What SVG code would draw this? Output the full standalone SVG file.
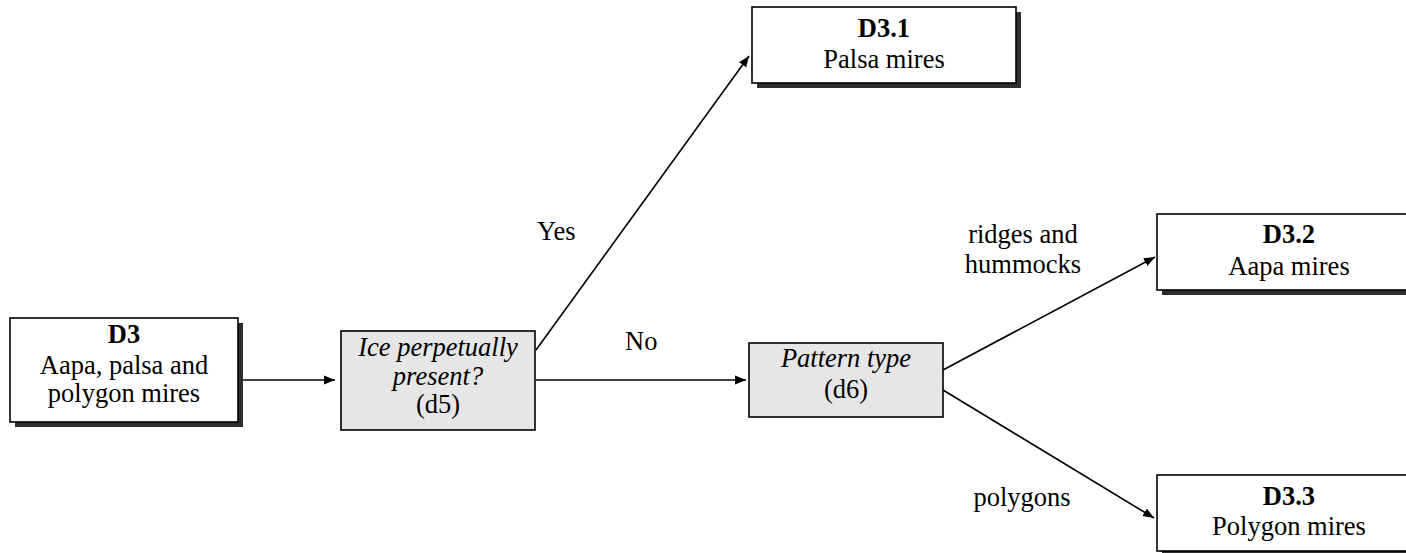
<svg xmlns="http://www.w3.org/2000/svg" width="1406" height="553" viewBox="0 0 1406 553">
  <style>
    text { font-family: "Liberation Serif", "Times New Roman", "DejaVu Serif", serif; font-size: 26.5px; fill: #000; text-anchor: middle; }
    .b { font-weight: bold; }
    .i { font-style: italic; }
    .box { fill: #fff; stroke: #000; stroke-width: 1.6; }
    .dec { fill: #e6e6e6; stroke: #000; stroke-width: 1.6; }
    .shadow { fill: #2e2e2e; }
    .edge { stroke: #000; stroke-width: 1.6; fill: none; marker-end: url(#arrow); }
    .lbl { text-anchor: start; }
  </style>
  <defs>
    <marker id="arrow" viewBox="0 0 10 10" refX="10" refY="5" markerWidth="11" markerHeight="11" markerUnits="userSpaceOnUse" orient="auto">
      <path d="M0,1 L10,5 L0,9 z" fill="#000"/>
    </marker>
  </defs>

  <!-- connectors -->
  <g id="connectors">
    <line class="edge" x1="243" y1="380" x2="335" y2="380"/>
    <line class="edge" x1="536" y1="350" x2="749" y2="56"/>
    <line class="edge" x1="536" y1="380" x2="746" y2="380"/>
    <line class="edge" x1="943" y1="370" x2="1155" y2="257"/>
    <line class="edge" x1="943" y1="390" x2="1154" y2="518"/>
    <text class="lbl" x="537" y="240">Yes</text>
    <text class="lbl" x="625" y="350">No</text>
    <text x="1023" y="243">ridges and</text>
    <text x="1023" y="273">hummocks</text>
    <text x="1022" y="506">polygons</text>
  </g>

  <!-- D3 -->
  <g id="node-d3">
    <rect class="shadow" x="15" y="323" width="228" height="104"/>
    <rect class="box" x="10" y="318" width="228" height="104"/>
    <text class="b" x="124" y="343">D3</text>
    <text x="124" y="374">Aapa, palsa and</text>
    <text x="124" y="402">polygon mires</text>
  </g>

  <!-- decision d5 -->
  <g id="node-d5">
    <rect class="dec" x="341" y="331" width="194" height="99"/>
    <text class="i" x="438" y="356">Ice perpetually</text>
    <text class="i" x="438" y="385">present?</text>
    <text x="438" y="413">(d5)</text>
  </g>

  <!-- decision d6 -->
  <g id="node-d6">
    <rect class="dec" x="749" y="343" width="194" height="74"/>
    <text class="i" x="846" y="367">Pattern type</text>
    <text x="846" y="398">(d6)</text>
  </g>

  <!-- D3.1 -->
  <g id="node-d3-1">
    <rect class="shadow" x="757" y="12" width="264" height="76"/>
    <rect class="box" x="752" y="7" width="264" height="76"/>
    <text class="b" x="884" y="37">D3.1</text>
    <text x="884" y="68">Palsa mires</text>
  </g>

  <!-- D3.2 -->
  <g id="node-d3-2">
    <rect class="shadow" x="1162" y="219" width="264" height="76"/>
    <rect class="box" x="1157" y="214" width="264" height="76"/>
    <text class="b" x="1289" y="243">D3.2</text>
    <text x="1289" y="275">Aapa mires</text>
  </g>

  <!-- D3.3 -->
  <g id="node-d3-3">
    <rect class="shadow" x="1162" y="480" width="264" height="76"/>
    <rect class="box" x="1157" y="475" width="264" height="76"/>
    <text class="b" x="1289" y="505">D3.3</text>
    <text x="1289" y="535">Polygon mires</text>
  </g>
</svg>
